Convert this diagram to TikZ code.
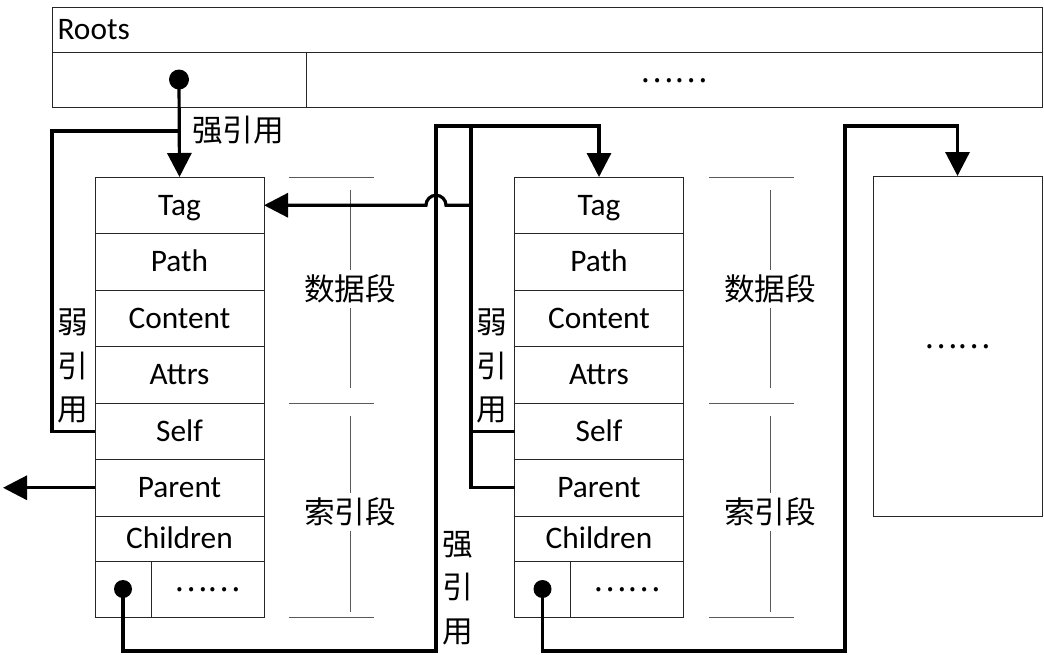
\documentclass[tikz,border=0pt]{standalone}
\usepackage{fontspec}
\setmainfont{Carlito}
\newfontfamily\cjk{Noto Sans CJK SC}
\usetikzlibrary{arrows.meta,positioning}
\newcommand{\moredots}{\raisebox{5.5pt}{\cjk ……}}

\begin{document}
\begin{tikzpicture}[
  x=0.75pt,y=-0.75pt,
  font=\fontsize{23.5}{28}\selectfont,
  cell/.style={draw=black!85, line width=0.75pt, inner sep=0pt, outer sep=0pt,
               minimum width=126.75pt, minimum height=42.375pt,
               text height=15.8pt, text depth=0.7pt},
  wire/.style={draw=black, line width=2.4pt},
  flow/.style={wire, -{Triangle[length=18pt,width=18pt]}},
  dot/.style={circle, fill=black, inner sep=0pt, minimum size=13.5pt},
  hanzi/.style={font=\cjk\fontsize{23}{32.5}\selectfont, inner sep=0pt, align=center},
  seg/.style={draw=black!65, line width=0.6pt},
  seglabel/.style={hanzi, inner ysep=3pt}
]
\useasboundingbox (0,0) rectangle (1044,654);

% Root table.
\node[cell, minimum width=742.5pt, minimum height=33.75pt, anchor=north west]
  (roots) at (52,7) {};
\node[anchor=west, inner sep=0pt] (rootslabel) at ([xshift=4pt]roots.west) {Roots};
\node[cell, minimum width=190.5pt, minimum height=41.25pt, anchor=north west]
  (rootA) at (roots.south west) {};
\node[cell, minimum width=552pt, minimum height=41.25pt, anchor=north west]
  (rootmore) at (rootA.north east) {\moredots};
\node[dot, minimum size=15pt] (rootdot) at (rootA.center) {};

% First element: data segment and index segment.
\node[cell] (tagA) at (179.5,205.25) {Tag};
\node[cell, below=0pt of tagA] (pathA) {Path};
\node[cell, below=0pt of pathA] (contentA) {Content};
\node[cell, below=0pt of contentA] (attrsA) {Attrs};
\node[cell, below=0pt of attrsA] (selfA) {Self};
\node[cell, below=0pt of selfA] (parentA) {Parent};
\node[cell, below=0pt of parentA, minimum height=33.75pt] (childA) {Children};
\node[cell, minimum width=42pt, minimum height=42pt, anchor=north west]
  (ptrA) at (childA.south west) {};
\node[cell, minimum width=84.75pt, minimum height=42pt, anchor=north west]
  (moreA) at (ptrA.north east) {\moredots};
\node[dot] (dotA) at (ptrA.center) {};

% Second element.
\node[cell] (tagB) at (599,205.25) {Tag};
\node[cell, below=0pt of tagB] (pathB) {Path};
\node[cell, below=0pt of pathB] (contentB) {Content};
\node[cell, below=0pt of contentB] (attrsB) {Attrs};
\node[cell, below=0pt of attrsB] (selfB) {Self};
\node[cell, below=0pt of selfB] (parentB) {Parent};
\node[cell, below=0pt of parentB, minimum height=33.75pt] (childB) {Children};
\node[cell, minimum width=42pt, minimum height=42pt, anchor=north west]
  (ptrB) at (childB.south west) {};
\node[cell, minimum width=84.75pt, minimum height=42pt, anchor=north west]
  (moreB) at (ptrB.north east) {\moredots};
\node[dot] (dotB) at (ptrB.center) {};

% Further elements.
\node[cell, minimum height=255pt] (boxC) at (957.5,346) {\moredots};

% Segment brackets beside each element.
\node[seglabel] (dataA) at (350,289) {数据段};
\node[seglabel] (indexA) at (350,512) {索引段};
\draw[seg] (289,177) -- (374,177);
\draw[seg] (289,403) -- (374,403);
\draw[seg] (289,617) -- (374,617);
\draw[seg] (350,190) -- (dataA.north);
\draw[seg] (dataA.south) -- (350,388);
\draw[seg] (350,416) -- (indexA.north);
\draw[seg] (indexA.south) -- (350,612);

\node[seglabel] (dataB) at (770,289) {数据段};
\node[seglabel] (indexB) at (770,512) {索引段};
\draw[seg] (709,177) -- (794,177);
\draw[seg] (709,403) -- (794,403);
\draw[seg] (709,617) -- (794,617);
\draw[seg] (770,190) -- (dataB.north);
\draw[seg] (dataB.south) -- (770,388);
\draw[seg] (770,416) -- (indexB.north);
\draw[seg] (indexB.south) -- (770,612);

% Strong reference from the root.
\draw[flow] (rootdot.center) -- (tagA.north);
\node[hanzi, anchor=west] (strongroot) at (192,130) {强引用};

% Weak self reference of the first element.
\coordinate (weakA) at (52,131);
\draw[wire] (selfA.west) -| (weakA) -- (weakA -| rootdot);
\node[hanzi] (weakAlabel) at (73,366) {弱\\引\\用};

% Parent of the first element.
\coordinate (upA) at ([xshift=-69pt]parentA.west);
\draw[flow] (parentA.west) -- (upA);

% Child reference from the first element to the second.
\coordinate (loopA) at (436,651);
\coordinate (topbus) at (436,126);
\draw[flow] (dotA.center) |- (loopA) -- (topbus) -| (tagB.north);
\node[hanzi] (strongAlabel) at (458,588) {强\\引\\用};

% Self and parent references of the second element.
\coordinate (parentbus) at (471,126);
\coordinate (hop) at (topbus |- tagA.east);
\draw[wire] (parentB.west) -| (parentbus);
\draw[wire] (selfB.west) -- (selfB.west -| parentbus);
\draw[flow] (tagA.east -| parentbus) -- ([xshift=7.5pt]hop)
  arc[start angle=0, end angle=180, radius=7.5pt] -- (tagA.east);
\node[hanzi] (weakBlabel) at (492,366) {弱\\引\\用};

% Child reference from the second element onwards.
\coordinate (loopB) at (845,651);
\coordinate (topC) at (845,126);
\draw[flow] (dotB.center) |- (loopB) -- (topC) -| (boxC.north);

\end{tikzpicture}
\end{document}
